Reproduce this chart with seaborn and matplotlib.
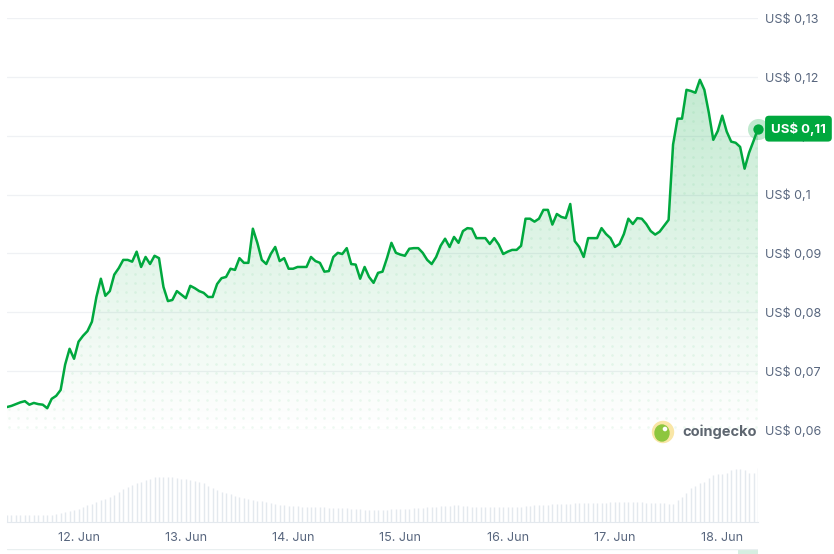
import numpy as np
import pandas as pd
import matplotlib
matplotlib.use('Agg')
import matplotlib.pyplot as plt
import matplotlib.dates as mdates
from matplotlib.patches import Circle, Ellipse, Rectangle
import seaborn as sns

# hourly price, 11 Jun 08:00 -> 18 Jun 08:00
start = '2025-06-11 08:00'
price = [0.0639, 0.0641, 0.0644, 0.0647, 0.0649, 0.0643, 0.0646, 0.0644, 0.0643, 0.0637,
         0.0653, 0.0658, 0.0668, 0.0711, 0.0738, 0.0721, 0.0750, 0.0760, 0.0768, 0.0784,
         0.0826, 0.0857, 0.0828, 0.0836, 0.0864, 0.0875, 0.0889, 0.0889, 0.0886, 0.0903,
         0.0877, 0.0894, 0.0882, 0.0896, 0.0892, 0.0843, 0.0819, 0.0821, 0.0836, 0.0830,
         0.0824, 0.0845, 0.0841, 0.0836, 0.0833, 0.0826, 0.0826, 0.0848, 0.0858, 0.0860,
         0.0874, 0.0872, 0.0892, 0.0884, 0.0884, 0.0942, 0.0918, 0.0889, 0.0882, 0.0899,
         0.0911, 0.0887, 0.0892, 0.0874, 0.0874, 0.0877, 0.0877, 0.0877, 0.0894, 0.0887,
         0.0884, 0.0869, 0.0870, 0.0894, 0.0901, 0.0899, 0.0909, 0.0882, 0.0881, 0.0857,
         0.0877, 0.0860, 0.0850, 0.0867, 0.0869, 0.0892, 0.0918, 0.0901, 0.0898, 0.0896,
         0.0908, 0.0909, 0.0909, 0.0901, 0.0889, 0.0882, 0.0894, 0.0913, 0.0925, 0.0911,
         0.0928, 0.0918, 0.0938, 0.0943, 0.0942, 0.0926, 0.0926, 0.0926, 0.0916, 0.0926,
         0.0915, 0.0899, 0.0903, 0.0906, 0.0906, 0.0913, 0.0959, 0.0959, 0.0954, 0.0959,
         0.0974, 0.0974, 0.0949, 0.0967, 0.0962, 0.0960, 0.0984, 0.0921, 0.0911, 0.0894,
         0.0926, 0.0926, 0.0926, 0.0943, 0.0933, 0.0926, 0.0911, 0.0916, 0.0933, 0.0959,
         0.0950, 0.0960, 0.0959, 0.0950, 0.0938, 0.0932, 0.0937, 0.0947, 0.0957, 0.1085,
         0.1129, 0.1129, 0.1178, 0.1176, 0.1173, 0.1195, 0.1178, 0.1139, 0.1093, 0.1108,
         0.1134, 0.1107, 0.1090, 0.1088, 0.1081, 0.1044, 0.1071, 0.1091, 0.1112]

# hourly volume (relative bar heights)
volume = [20, 20, 20, 20, 20, 20, 20, 20, 20, 20, 20,
          22, 24, 27, 30, 34, 38, 42, 47, 52, 57, 62, 66, 71, 77, 86, 95, 102, 108, 113,
          117, 122, 126, 130, 130, 130, 130, 130, 127, 125, 124, 122, 118, 115, 112, 104,
          97, 92, 88, 84, 80, 76, 72, 69, 67, 64, 61, 59, 57, 54, 51, 49, 47,
          46, 45, 45, 44, 44, 43, 43, 42,
          42, 41, 41, 40, 40, 39, 38, 37, 36, 35, 35, 34,
          34, 35, 35, 36, 36, 37,
          37, 38, 39, 40, 41, 42, 43, 44, 45, 46, 46, 47,
          47, 46, 45, 44, 43, 42, 42, 42, 42, 42, 42, 42,
          42, 43, 44, 45, 46, 47,
          47, 48, 49, 50, 51, 52, 52,
          52, 53, 53, 54, 54, 54,
          55, 55, 55, 56, 56, 56, 57, 57, 57,
          57, 56, 55, 54, 54, 53, 53, 52, 52,
          62, 72, 85, 97, 105, 113, 117, 127, 137, 138, 140, 142, 150, 154, 154, 152,
          142, 142, 157]

price_ticks = [0.06, 0.07, 0.08, 0.09, 0.10, 0.11, 0.12, 0.13]
price_labels = ['US$ 0,06', 'US$ 0,07', 'US$ 0,08', 'US$ 0,09',
                'US$ 0,1', 'US$ 0,11', 'US$ 0,12', 'US$ 0,13']
day_ticks = ['2025-06-12', '2025-06-13', '2025-06-14', '2025-06-15',
             '2025-06-16', '2025-06-17', '2025-06-18']
day_labels = ['12. Jun', '13. Jun', '14. Jun', '15. Jun', '16. Jun', '17. Jun', '18. Jun']
last_label = 'US$ 0,11'
brand = 'coingecko'

GREEN = '#00a83e'
GREY = '#58667e'

df = pd.DataFrame({'time': pd.date_range(start, periods=len(price), freq='h'),
                   'price': price, 'volume': volume})

sns.set_style('white')
plt.rcParams['font.family'] = ['Inter', 'DejaVu Sans']

W, H = 834, 554
fig = plt.figure(figsize=(W / 100, H / 100), dpi=100)

def px_axes(x0, y0, x1, y1):
    return fig.add_axes([x0 / W, 1 - y1 / H, (x1 - x0) / W, (y1 - y0) / H])

ax = px_axes(7, 18, 758, 430)
t0, t1 = df['time'].iloc[0], df['time'].iloc[-1]
xnum = mdates.date2num(df['time'])

# gridlines
for v in price_ticks:
    ax.axhline(v, color='#eff1f4', lw=0.9, zorder=0)

# gradient fill under the line
fill = ax.fill_between(df['time'], df['price'], 0.06, color='none', lw=0)
clip = fill.get_paths()[0]
rgb = matplotlib.colors.to_rgb(GREEN)
grad = np.zeros((256, 1, 4))
grad[..., :3] = rgb
grad[:, 0, 3] = np.linspace(0.28, 0.0, 256)
im = ax.imshow(grad, extent=[xnum[0], xnum[-1], 0.06, 0.13], aspect='auto',
               origin='upper', zorder=1, interpolation='bilinear')
im.set_clip_path(clip, ax.transData)

# dotted texture
gx, gy = np.meshgrid(np.arange(xnum[0] + 0.02, xnum[-1], 9 / 107.3),
                     np.arange(0.0605, 0.13, 9 / 5883))
dots = ax.scatter(gx.ravel(), gy.ravel(), s=3.5, color=GREEN, alpha=0.07,
                  lw=0, zorder=1.5)
dots.set_clip_path(clip, ax.transData)

sns.lineplot(data=df, x='time', y='price', color=GREEN, linewidth=1.8, ax=ax, zorder=3)

# last point marker
ax.scatter([t1], [price[-1]], s=230, color=GREEN, alpha=0.25, lw=0, zorder=4, clip_on=False)
ax.scatter([t1], [price[-1]], s=55, color=GREEN, lw=0, zorder=5, clip_on=False)

ax.set_xlim(t0, t1)
ax.set_ylim(0.06, 0.13)
ax.set_yticks(price_ticks)
ax.set_yticklabels(price_labels)
ax.yaxis.tick_right()
ax.tick_params(axis='y', length=0, pad=5, labelcolor=GREY, labelsize=9)
ax.set_xticks([])
ax.set_xlabel('')
ax.set_ylabel('')
for s in ax.spines.values():
    s.set_visible(False)

# current price badge sits on top of the 0,11 axis label
ax.annotate(last_label, xy=(1, price[-1]), xycoords=('axes fraction', 'data'),
            xytext=(13, 0), textcoords='offset pixels', ha='left', va='center',
            color='white', fontsize=9.5, fontweight='bold', zorder=6, annotation_clip=False,
            bbox=dict(boxstyle='round,pad=0.45,rounding_size=0.3', fc=GREEN, ec='none'))

# volume bars
vax = px_axes(7, 468, 758, 521.5)
vax.vlines(df['time'], 0, df['volume'], color='#e4e9ee', lw=1.0)
vax.set_xlim(t0, t1)
vax.set_ylim(0, max(volume))
vax.set_yticks([])
vax.set_xticks(pd.to_datetime(day_ticks))
vax.set_xticklabels(day_labels)
vax.tick_params(axis='x', length=4, width=0.9, color='#e4e9ee', pad=3.5,
                labelcolor=GREY, labelsize=9)
for k, s in vax.spines.items():
    s.set_visible(k == 'bottom')
vax.spines['bottom'].set_color('#e4e9ee')
vax.set_xlabel('')
vax.set_facecolor('none')

# navigator strip at the bottom
nav = px_axes(7, 549, 758, 554)
nav.set_xlim(0, 1)
nav.set_ylim(0, 1)
nav.axis('off')
nav.axhline(1, color='#e9eff0', lw=1)
nav.add_patch(Rectangle((0.973, 0), 0.027, 1, color='#d6eee1', lw=0))

# brand logo
ly = 1 - 432 / H
fig.patches.append(Circle((663, H - 432), 10.5, transform=None, color='#f9e6a6', zorder=5))
fig.patches.append(Ellipse((662, H - 433), 14, 16, transform=None, color='#8dc63f', zorder=6))
fig.patches.append(Circle((665, H - 429), 1.6, transform=None, color='white', zorder=7))
fig.text(682 / W, ly, brand, ha='left', va='center', fontsize=10.5,
         fontweight='bold', color='#5e6670')

fig.savefig('out.png', dpi=100)
